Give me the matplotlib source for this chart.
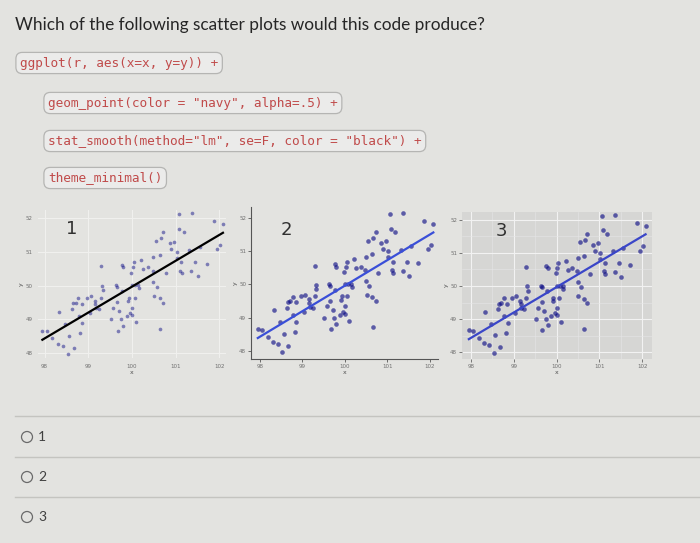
import matplotlib.pyplot as plt
import numpy as np
from matplotlib.patches import Circle

# scatter data (same points in all three panels)
x_vals = [97.95, 98.05, 98.18, 98.31, 98.43, 98.53, 98.56, 98.67, 98.47, 98.33,
          98.63, 98.65, 98.71, 98.78, 98.77, 98.82, 98.86, 98.85, 98.96, 99.06,
          99.04, 99.15, 99.16, 99.18, 99.29, 99.31, 99.33, 99.29, 99.25, 99.51,
          99.57, 99.63, 99.66, 99.65, 99.67, 99.71, 99.75, 99.79, 99.77, 99.76,
          99.80, 99.88, 99.91, 99.92, 99.96, 100.00, 100.01, 99.98, 100.02, 100.04,
          100.06, 100.10, 100.00, 100.08, 100.14, 100.16, 100.21, 100.26, 100.37, 100.47,
          100.49, 100.49, 100.51, 100.57, 100.55, 100.63, 100.64, 100.65, 100.67, 100.72,
          100.72, 100.77, 100.86, 100.90, 100.96, 101.02, 101.02, 101.07, 101.08, 101.10,
          101.12, 101.14, 101.18, 101.36, 101.37, 101.31, 101.45, 101.51, 101.55, 101.71,
          101.87, 101.95, 102.02, 102.08]
y_vals = [48.66, 48.64, 48.43, 48.26, 48.20, 47.96, 48.51, 48.15, 48.86, 49.22,
          49.29, 49.47, 49.49, 49.09, 49.63, 48.58, 48.88, 49.46, 49.64, 49.69,
          49.17, 49.55, 49.44, 49.32, 50.57, 49.99, 49.86, 49.64, 49.29, 49.00,
          49.34, 50.01, 49.96, 49.51, 48.66, 49.24, 49.00, 48.81, 49.84, 50.61,
          50.54, 49.09, 49.54, 49.64, 49.17, 49.34, 49.12, 50.38, 50.54, 50.69,
          49.64, 48.91, 50.01, 50.01, 50.01, 49.92, 50.77, 50.49, 50.54, 50.44,
          50.84, 50.11, 49.69, 49.96, 51.32, 50.91, 49.62, 48.71, 51.40, 51.58,
          49.49, 50.36, 51.25, 51.07, 51.30, 51.00, 50.82, 52.13, 51.68, 50.44,
          50.69, 50.36, 51.58, 50.42, 52.15, 51.05, 50.69, 50.27, 51.15, 50.64,
          51.92, 51.07, 51.20, 51.83]

x_ticks = [98, 99, 100, 101, 102]
y_ticks = [48, 49, 50, 51, 52]
panel_labels = ["1", "2", "3"]
options = ["1", "2", "3"]

question = "Which of the following scatter plots would this code produce?"
code_lines = [
    'ggplot(r, aes(x=x, y=y)) +',
    'geom_point(color = "navy", alpha=.5) +',
    'stat_smooth(method="lm", se=F, color = "black") +',
    'theme_minimal()',
]

PAGE = "#e3e3e0"
W, H = 700, 543

fig = plt.figure(figsize=(7, 5.43), dpi=100, facecolor=PAGE)


def px_axes(left, top, width, height):
    return fig.add_axes([left / W, 1 - (top + height) / H, width / W, height / H])


# page layer in pixel coordinates
bg = fig.add_axes([0, 0, 1, 1], zorder=-1)
bg.set_xlim(0, W)
bg.set_ylim(H, 0)
bg.axis("off")

bg.text(15, 25, question, family="Lato", fontsize=12.4, color="#262626", va="center")

code_pos = [(20, 63), (48, 103), (48, 141), (48, 178)]
for (cx, cy), line in zip(code_pos, code_lines):
    bg.text(cx, cy, line, family="DejaVu Sans Mono", fontsize=9.2, color="#c04a4a",
            va="center",
            bbox=dict(boxstyle="round,pad=0.32,rounding_size=0.5",
                      fc="#ebebea", ec="#b5b5b3", lw=0.9))

for yy in [416, 457, 497]:
    bg.plot([15, 700], [yy, yy], color="#c4c4c0", lw=1)
for i, opt in enumerate(options):
    cy = 437 + 40 * i
    bg.add_patch(Circle((27, cy), 5.5, fc="none", ec="#6a6a6a", lw=0.9))
    bg.text(38, cy, opt, family="Lato", fontsize=10, color="#404040", va="center")

# regression line
slope, intercept = np.polyfit(x_vals, y_vals, 1)
x_line = np.array([min(x_vals), max(x_vals)])
y_line = slope * x_line + intercept

ax1 = px_axes(38, 210, 188, 148)
ax2 = px_axes(251, 207, 187, 152)
ax3 = px_axes(462, 212, 190, 147)

panel_cfg = [
    (ax1, (97.85, 102.15), (47.85, 52.24), "black", 0.45, 7, (0.18, 0.87)),
    (ax2, (97.79, 102.19), (47.76, 52.33), "#3a4fd8", 0.6, 11, (0.19, 0.85)),
    (ax3, (97.79, 102.23), (47.79, 52.24), "#3a46c8", 0.6, 11, (0.21, 0.87)),
]

for k, (ax, xl, yl, lcol, alpha, size, lab_pos) in enumerate(panel_cfg):
    ax.scatter(x_vals, y_vals, s=size, color="navy", alpha=alpha, lw=0, zorder=3,
               clip_on=False)
    ax.plot(x_line, y_line, color=lcol, lw=1.6, zorder=4)
    ax.set_xlim(*xl)
    ax.set_ylim(*yl)
    ax.set_xticks(x_ticks)
    ax.set_yticks(y_ticks)
    ax.set_xticklabels([str(t) for t in x_ticks], fontsize=4, color="#707070")
    ax.set_yticklabels([str(t) for t in y_ticks], fontsize=4, color="#707070")
    ax.set_xlabel("x", fontsize=4.5, color="#505050", labelpad=1)
    ax.set_ylabel("y", fontsize=4.5, color="#505050", labelpad=1)
    ax.text(lab_pos[0], lab_pos[1], panel_labels[k], transform=ax.transAxes,
            fontsize=13, color="#303030", ha="center", va="center", zorder=5)

# panel 1: theme_minimal
ax1.set_facecolor("none")
for s in ax1.spines.values():
    s.set_visible(False)
ax1.tick_params(length=0, pad=4)
ax1.grid(True, color="#f0f0ee", lw=0.8)
ax1.set_axisbelow(True)

# panel 2: classic axes
ax2.set_facecolor("none")
ax2.spines["top"].set_visible(False)
ax2.spines["right"].set_visible(False)
ax2.spines["left"].set_color("#555555")
ax2.spines["bottom"].set_color("#555555")
ax2.tick_params(length=2, width=0.6, pad=1.5, color="#555555")

# panel 3: grey theme
ax3.set_facecolor("#d6d6d4")
for s in ax3.spines.values():
    s.set_visible(False)
ax3.tick_params(length=2, width=0.6, pad=1.5, color="#666666")
ax3.set_xticks(np.arange(98.5, 102, 1), minor=True)
ax3.set_yticks(np.arange(48.5, 52, 1), minor=True)
ax3.tick_params(which="minor", length=0)
ax3.grid(True, which="major", color="#f2f2f2", lw=0.8)
ax3.grid(True, which="minor", color="#e6e6e6", lw=0.4)
ax3.set_axisbelow(True)

fig.savefig("out.png", dpi=100, facecolor=PAGE)
